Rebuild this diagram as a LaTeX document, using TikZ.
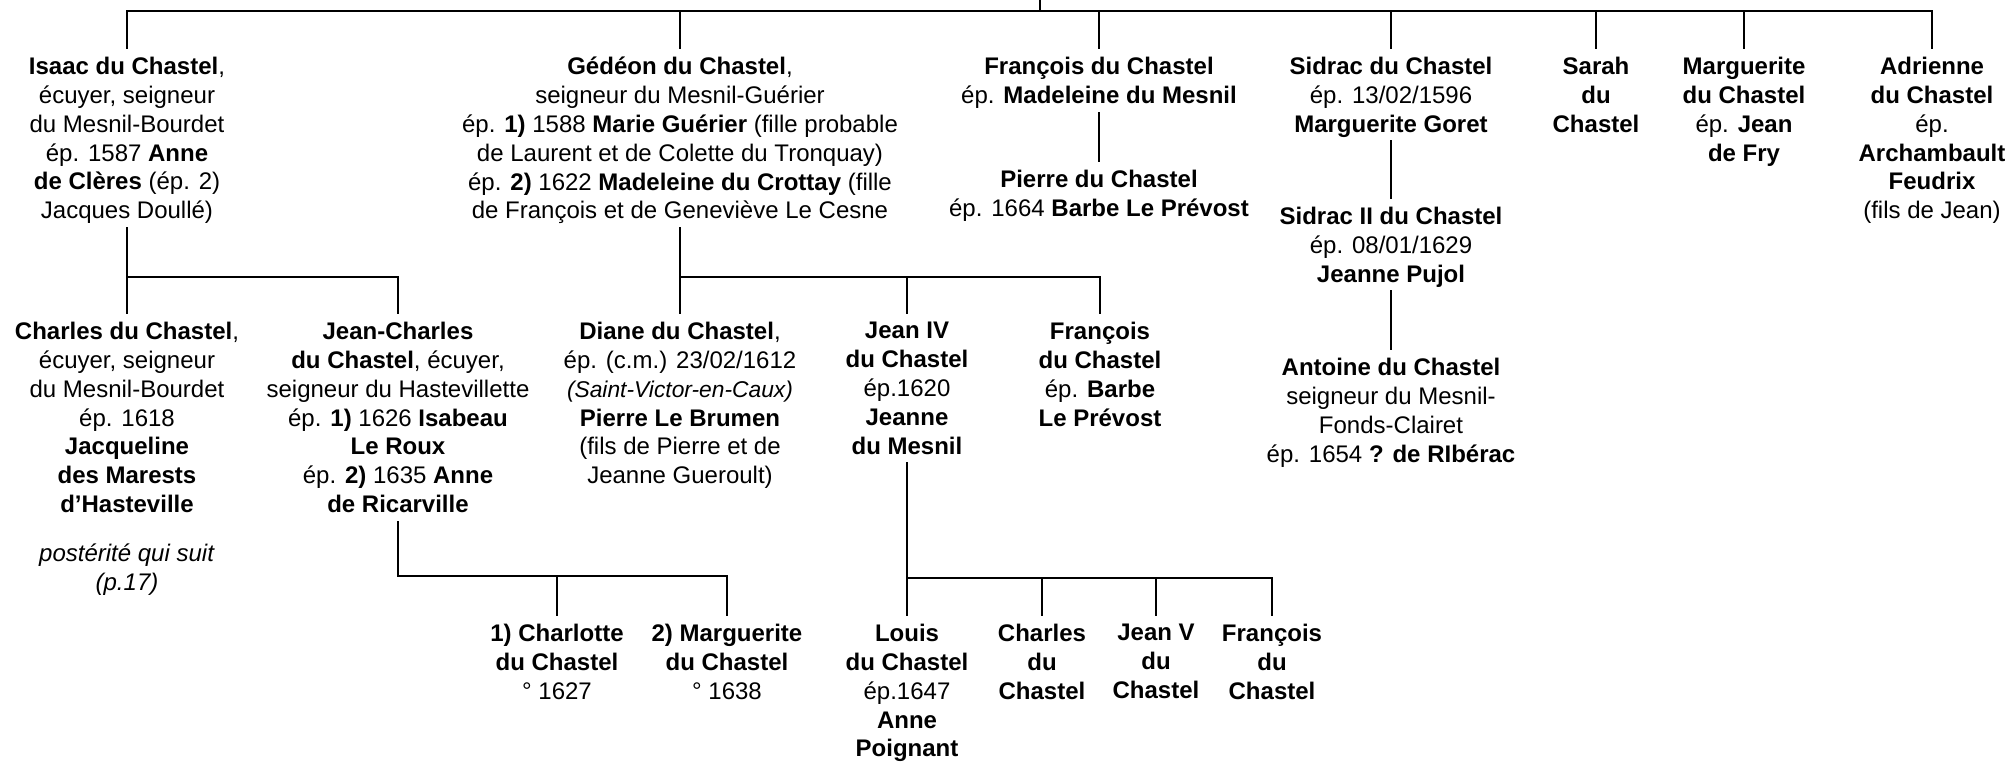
\documentclass[tikz,border=0pt]{standalone}
\usepackage{fontspec}
\setmainfont{Liberation Sans}
\tikzset{
  person/.style={align=center, anchor=north, inner sep=0pt,
    font=\fontsize{12pt}{14.4pt}\selectfont,
    execute at begin node=\strut, execute at end node=\strut},
  link/.style={line width=1.1pt, line cap=rect},
  down/.style={link, shorten >=4.5pt}
}
\begin{document}
\begin{tikzpicture}[x=0.5pt,y=-0.5pt]
  \useasboundingbox (0,0) rectangle (2009,763);
  \coordinate (root) at (1040,0);
  \coordinate (topbar) at (1040,11);
  \coordinate (isaacbar) at (0,277);
  \coordinate (gedeonbar) at (0,277);
  \coordinate (jcbar) at (0,576);
  \coordinate (jeanbar) at (0,578);

  % children
  \node[person] (isaac) at (127,57) {\textbf{Isaac du Chastel},\\écuyer, seigneur\\du Mesnil-Bourdet\\ép. 1587 \textbf{Anne}\\\textbf{de Clères} (ép. 2)\\Jacques Doullé)};
  \node[person] (gedeon) at (680,57) {\textbf{Gédéon du Chastel},\\seigneur du Mesnil-Guérier\\ép. \textbf{1)} 1588 \textbf{Marie Guérier} (fille probable\\de Laurent et de Colette du Tronquay)\\ép. \textbf{2)} 1622 \textbf{Madeleine du Crottay} (fille\\de François et de Geneviève Le Cesne};
  \node[person] (francois) at (1099,57) {\textbf{François du Chastel}\\ép. \textbf{Madeleine du Mesnil}};
  \node[person] (sidrac) at (1391,57) {\textbf{Sidrac du Chastel}\\ép. 13/02/1596\\\textbf{Marguerite Goret}};
  \node[person] (sarah) at (1596,57) {\textbf{Sarah}\\\textbf{du}\\\textbf{Chastel}};
  \node[person] (marguerite) at (1744,57) {\textbf{Marguerite}\\\textbf{du Chastel}\\ép. \textbf{Jean}\\\textbf{de Fry}};
  \node[person] (adrienne) at (1932,57) {\textbf{Adrienne}\\\textbf{du Chastel}\\ép.\\\textbf{Archambault}\\\textbf{Feudrix}\\(fils de Jean)};

  % grandchildren
  \node[person] (charles) at (127,322) {\textbf{Charles du Chastel},\\écuyer, seigneur\\du Mesnil-Bourdet\\ép. 1618\\\textbf{Jacqueline}\\\textbf{des Marests}\\\textbf{d’Hasteville}\\[10pt]\textit{postérité qui suit}\\\textit{(p.17)}};
  \node[person] (jeancharles) at (398,322) {\textbf{Jean-Charles}\\\textbf{du Chastel}, écuyer,\\seigneur du Hastevillette\\ép. \textbf{1)} 1626 \textbf{Isabeau}\\\textbf{Le Roux}\\ép. \textbf{2)} 1635 \textbf{Anne}\\\textbf{de Ricarville}};
  \node[person] (diane) at (680,322) {\textbf{Diane du Chastel},\\ép. (c.m.) 23/02/1612\\{\fontsize{11.4pt}{14.4pt}\selectfont\textit{(Saint-Victor-en-Caux)}}\\\textbf{Pierre Le Brumen}\\(fils de Pierre et de\\Jeanne Gueroult)};
  \node[person] (jeanquatre) at (907,322) {\textbf{Jean IV}\\\textbf{du Chastel}\\ép.1620\\\textbf{Jeanne}\\\textbf{du Mesnil}};
  \node[person] (francoisdeux) at (1100,322) {\textbf{François}\\\textbf{du Chastel}\\ép. \textbf{Barbe}\\\textbf{Le Prévost}};
  \node[person] (pierre) at (1099,170) {\textbf{Pierre du Chastel}\\ép. 1664 \textbf{Barbe Le Prévost}};
  \node[person] (sidracdeux) at (1391,207) {\textbf{Sidrac II du Chastel}\\ép. 08/01/1629\\\textbf{Jeanne Pujol}};
  \node[person] (antoine) at (1391,358) {\textbf{Antoine du Chastel}\\seigneur du Mesnil-\\Fonds-Clairet\\ép. 1654 \textbf{? de RIbérac}};

  % great-grandchildren
  \node[person] (charlotte) at (557,624) {\textbf{1) Charlotte}\\\textbf{du Chastel}\\° 1627};
  \node[person] (margueritedeux) at (727,624) {\textbf{2) Marguerite}\\\textbf{du Chastel}\\° 1638};
  \node[person] (louis) at (907,624) {\textbf{Louis}\\\textbf{du Chastel}\\ép.1647\\\textbf{Anne}\\\textbf{Poignant}};
  \node[person] (charlesdeux) at (1042,624) {\textbf{Charles}\\\textbf{du}\\\textbf{Chastel}};
  \node[person] (jeancinq) at (1156,624) {\textbf{Jean V}\\\textbf{du}\\\textbf{Chastel}};
  \node[person] (francoistrois) at (1272,624) {\textbf{François}\\\textbf{du}\\\textbf{Chastel}};

  % lines
  \draw[link] (root) -- (topbar);
  \draw[link] (isaac |- topbar) -- (adrienne |- topbar);
  \foreach \n in {isaac,gedeon,francois,sidrac,sarah,marguerite,adrienne}
    \draw[down] (\n |- topbar) -- (\n.north);

  \draw[link] (isaac.south) -- (isaac |- isaacbar) -- (jeancharles |- isaacbar);
  \foreach \n in {charles,jeancharles}
    \draw[down] (\n |- isaacbar) -- (\n.north);

  \draw[link] (gedeon.south) -- (gedeon |- gedeonbar) -- (francoisdeux |- gedeonbar);
  \foreach \n in {diane,jeanquatre,francoisdeux}
    \draw[down] (\n |- gedeonbar) -- (\n.north);

  \draw[down] (francois.south) -- (pierre.north);
  \draw[down] (sidrac.south) -- (sidracdeux.north);
  \draw[down] (sidracdeux.south) -- (antoine.north);

  \draw[link] (jeancharles.south) -- (jeancharles |- jcbar) -- (margueritedeux |- jcbar);
  \foreach \n in {charlotte,margueritedeux}
    \draw[down] (\n |- jcbar) -- (\n.north);

  \draw[link] (jeanquatre.south) -- (jeanquatre |- jeanbar) -- (francoistrois |- jeanbar);
  \foreach \n in {louis,charlesdeux,jeancinq,francoistrois}
    \draw[down] (\n |- jeanbar) -- (\n.north);
\end{tikzpicture}
\end{document}
